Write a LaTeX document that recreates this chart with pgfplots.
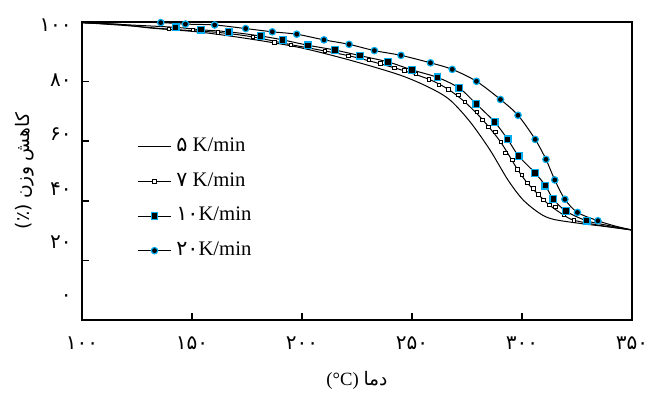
\documentclass[border=0pt]{standalone}
\usepackage{fontspec}
\setmainfont{Liberation Serif}
\newfontfamily\fa[Script=Arabic]{DejaVu Sans}
\TeXXeTstate=1
\usepackage{pgfplots}
\pgfplotsset{compat=1.18}
\definecolor{cyb}{RGB}{0,174,239}

\begin{document}
\begin{tikzpicture}
\begin{axis}[
  scale only axis, width=412.5pt, height=223.5pt,
  xmin=100, xmax=350, ymin=0, ymax=100,
  clip=false,
  axis line style={line width=1.4pt},
  tick pos=left, tick align=inside,
  major tick length=5pt,
  every tick/.style={black, line width=1.2pt},
  xtick={100,150,200,250,300,350},
  xticklabels={۱۰۰,۱۵۰,۲۰۰,۲۵۰,۳۰۰,۳۵۰},
  xticklabel style={font=\fa\fontsize{15}{17}\selectfont, anchor=center, yshift=-17.25pt, inner sep=0pt},
  ytick={0,20,40,60,80,100},
  yticklabels={},
  extra y ticks={7.4,26.2,44.0,62.4,80.5,99.0},
  extra y tick labels={۰,۲۰,۴۰,۶۰,۸۰,۱۰۰},
  extra y tick style={major tick length=0pt},
  yticklabel style={font=\fa\fontsize{15}{17}\selectfont, anchor=east, xshift=-7.5pt, inner sep=0pt},
  xlabel={(°C)~{\fa دما}},
  ylabel={{\fa (٪)~\beginR کاهش وزن\endR}},
  every axis x label/.style={at={(axis description cs:0.5,0)}, anchor=center, yshift=-45pt, font=\fontsize{14}{16}\selectfont},
  every axis y label/.style={at={(axis description cs:0,0.5)}, anchor=center, xshift=-42.75pt, rotate=90, font=\fontsize{14}{16}\selectfont},
  legend style={at={(axis description cs:0,1)}, anchor=north west, xshift=42pt, yshift=-87pt,
    draw=none, fill=none, inner sep=0pt, outer sep=0pt, row sep=13pt,
    nodes={inner sep=0pt, text height=10pt, text depth=3pt, font=\fontsize{15.5}{17}\selectfont}},
  legend cell align=left,
  legend image code/.code={\draw[#1,mark=none,line width=0.75pt] (0pt,0pt) -- (24pt,0pt); \draw[#1] plot coordinates {(12pt,0pt)}; \path (28pt,0pt);},
]
% 5 K/min
\addplot[black, line width=0.75pt, smooth, mark=none] coordinates {
(100,99.7) (117.3,99.2) (130.9,98.0) (153.6,96.6) (176.4,94.3) (199.1,91.4) (221.8,87.2) (244.5,82.2) (258.2,77.9) (267.3,73.8) (276.4,66.5) (285.5,57.0) (293.6,47.0) (300.5,40.3) (308.2,35.7) (314.2,33.8) (326.4,32.4) (337.7,31.4) (350,30.2)};
\addlegendentry{{\fa ۵}~K/min}
% 7 K/min line
\addplot[black, line width=0.75pt, smooth, forget plot] coordinates {
(100,99.8) (120,98.8) (139.5,97.6) (161.8,96.5) (177.6,95.0) (195.0,92.4) (221.1,88.7) (242.1,84.6) (257.6,80.8) (266.5,77.4) (274.1,73.1) (282.1,67.2) (290.3,59.7) (297.9,50.6) (302.4,46.0) (307.5,42.1) (312.4,38.6) (319.0,35.2) (323.5,33.5) (335,31.8) (350,30.2)};
% 10 K/min line
\addplot[black, line width=0.75pt, smooth, forget plot] coordinates {
(100,99.8) (122,99.0) (142.6,98.2) (154.0,97.4) (166.7,96.7) (181.2,95.3) (191.2,94.0) (202.7,92.2) (214.9,90.6) (226.4,88.7) (239.1,86.6) (250.1,83.9) (261.6,81.4) (271.5,77.8) (279.2,72.5) (287.6,66.4) (293.5,60.6) (298.5,55.0) (305.9,49.4) (310.6,45.1) (314.2,40.6) (320.0,36.5) (329.4,33.3) (340,31.6) (350,30.2)};
% 20 K/min line
\addplot[black, line width=0.75pt, smooth, forget plot] coordinates {
(100,99.9) (118,99.9) (135.8,99.8) (147.0,99.3) (160.3,99.0) (174.4,97.8) (186.5,96.7) (197.6,95.9) (210.0,94.0) (221.4,92.5) (232.9,90.4) (245.0,88.8) (258.4,86.3) (268.3,84.1) (279.3,80.1) (290.2,74.0) (298.2,68.7) (306.0,60.6) (310.9,53.9) (314.9,47.0) (319.5,40.5) (325.2,36.1) (334.5,33.3) (342,31.6) (350,30.2)};
% 7 K/min marks
\addplot[black, only marks, mark=square*, mark size=1.3pt, mark options={draw=black, fill=white, line width=0.6pt}] coordinates {
(139.5,97.6) (150.3,97.3) (161.8,96.5) (177.6,95.0) (187.5,93.2) (195.0,92.4) (210.3,90.3) (221.1,88.7) (230.5,87.3) (235.7,86.1) (242.1,84.6) (246.6,83.8) (251.7,82.6) (257.6,80.8) (262.3,78.9) (266.5,77.4) (271.0,75.5) (274.1,73.1) (279.5,69.8) (282.1,67.2) (284.7,64.8) (287.9,63.1) (290.3,59.7) (292.4,56.1) (295.6,53.7) (297.9,50.6) (299.9,48.7) (302.4,46.0) (305.2,44.1) (307.5,42.1) (309.7,40.3) (312.4,38.6) (315.1,38.0) (319.0,35.2) (323.5,33.5)};
\addlegendentry{{\fa ۷}~K/min}
% 10 K/min marks
\addplot[black, only marks, mark=square*, mark size=2.5pt, mark options={draw=cyb, fill=black, line width=0.9pt}] coordinates {
(142.6,98.2) (154.0,97.4) (166.7,96.7) (181.2,95.3) (191.2,94.0) (202.7,92.2) (214.9,90.6) (226.4,88.7) (239.1,86.6) (250.1,83.9) (261.6,81.4) (271.5,77.8) (279.2,72.5) (287.6,66.4) (293.5,60.6) (298.5,55.0) (305.9,49.4) (310.6,45.1) (314.2,40.6) (320.0,36.5) (329.4,33.3)};
\addlegendentry{{\fa ۱۰}K/min}
% 20 K/min marks
\addplot[black, only marks, mark=*, mark size=2.4pt, mark options={draw=cyb, fill=black, line width=0.9pt}] coordinates {
(135.8,99.8) (147.0,99.3) (160.3,99.0) (174.4,97.8) (186.5,96.7) (197.6,95.9) (210.0,94.0) (221.4,92.5) (232.9,90.4) (245.0,88.8) (258.4,86.3) (268.3,84.1) (279.3,80.1) (290.2,74.0) (298.2,68.7) (306.0,60.6) (310.9,53.9) (314.9,47.0) (319.5,40.5) (325.2,36.1) (334.5,33.3)};
\addlegendentry{{\fa ۲۰}K/min}
\path (axis description cs:0,0) ++(-61.5pt,-51pt) rectangle ++(492.75pt,291pt);
\end{axis}
\end{tikzpicture}
\end{document}
